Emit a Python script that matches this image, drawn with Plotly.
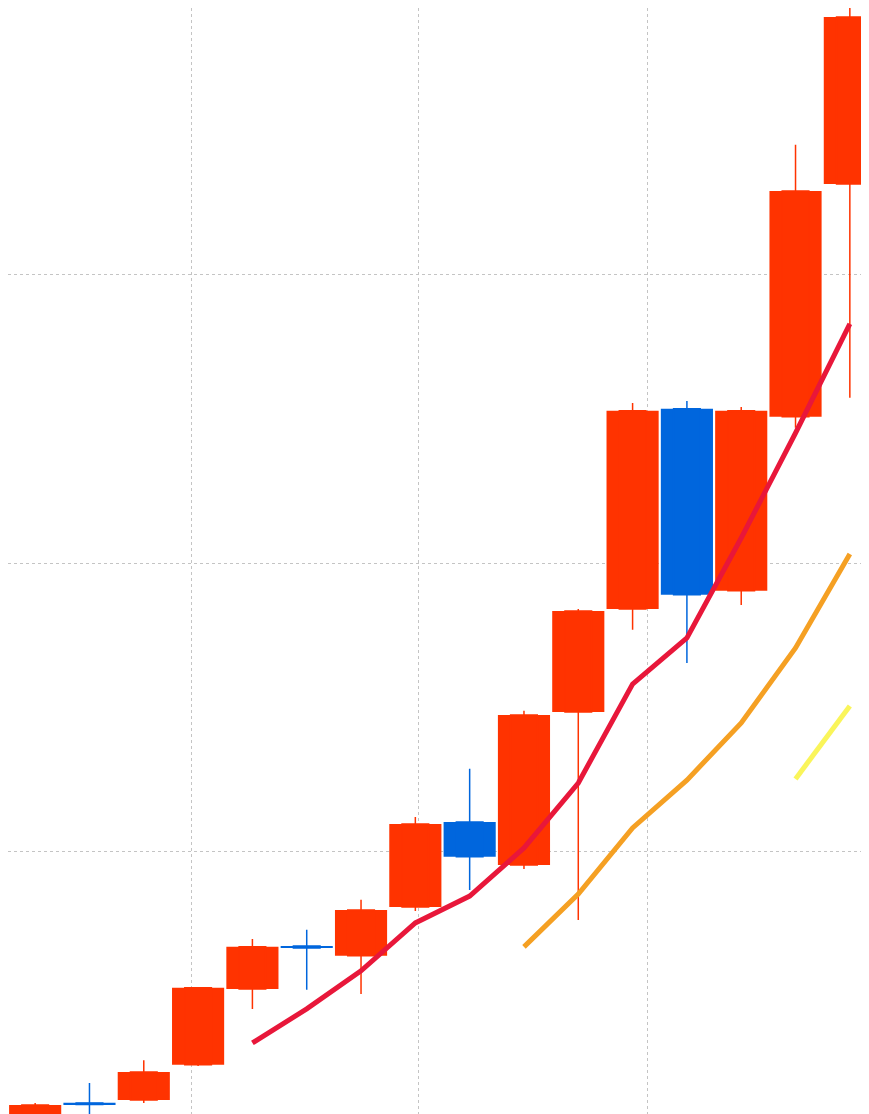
import plotly.graph_objects as go

x = list(range(16))
opens  = [4.3, 13.0, 14.0, 26.2, 52.5, 67.4, 64.0, 80.9, 110.4, 95.5, 148.5, 184.2, 253.6, 190.5, 250.8, 331.5]
closes = [12.3, 12.5, 23.7, 52.9, 67.1, 66.7, 79.9, 109.7, 98.3, 147.5, 183.5, 252.9, 189.1, 252.9, 329.1, 389.4]
highs  = [13.0, 19.9, 27.8, 52.9, 69.8, 73.0, 83.4, 112.1, 128.8, 148.9, 184.2, 255.6, 256.3, 254.2, 345.1, 394.0]
lows   = [2.6, 6.4, 13.0, 25.8, 45.6, 52.2, 50.8, 79.5, 86.8, 94.1, 76.4, 177.0, 165.5, 185.6, 247.0, 257.4]

ma_short_x = list(range(4, 16))
ma_short = [33.8, 45.6, 58.8, 75.4, 84.7, 101.4, 123.9, 158.2, 174.2, 208.8, 245.2, 283.0]
ma_mid_x = list(range(9, 16))
ma_mid = [67.1, 85.4, 108.3, 124.9, 144.7, 170.7, 203.3]
ma_long_x = [14, 15]
ma_long = [125.3, 150.6]

UP, DOWN = "#FF3300", "#0066DD"
colors = [UP if c >= o else DOWN for o, c in zip(opens, closes)]
bases = [min(o, c) for o, c in zip(opens, closes)]
heights = [max(abs(c - o), 0.6) for o, c in zip(opens, closes)]

fig = go.Figure()
fig.add_trace(go.Candlestick(
    x=x, open=opens, high=highs, low=lows, close=closes,
    increasing=dict(line=dict(color=UP, width=1.5), fillcolor=UP),
    decreasing=dict(line=dict(color=DOWN, width=1.5), fillcolor=DOWN),
    whiskerwidth=0, showlegend=False, hoverinfo="skip"))
fig.add_trace(go.Bar(x=x, y=heights, base=bases, width=0.96,
                     marker=dict(color=colors, line=dict(width=0)), showlegend=False))
fig.add_trace(go.Scatter(x=ma_short_x, y=ma_short, mode="lines",
                         line=dict(color="#E8173A", width=5), showlegend=False))
fig.add_trace(go.Scatter(x=ma_mid_x, y=ma_mid, mode="lines",
                         line=dict(color="#F5A023", width=5), showlegend=False))
fig.add_trace(go.Scatter(x=ma_long_x, y=ma_long, mode="lines",
                         line=dict(color="#FAF55A", width=5), showlegend=False))

fig.update_layout(
    width=869, height=1114, margin=dict(l=0, r=0, t=0, b=0, pad=0, autoexpand=False),
    paper_bgcolor="white", plot_bgcolor="white",
    xaxis=dict(range=[-0.5, 15.5], tickvals=[2.87, 7.06, 11.27], showticklabels=False,
               showgrid=True, gridcolor="#C4C4C4", griddash="dot", gridwidth=1,
               zeroline=False, rangeslider=dict(visible=False), showline=False, ticks=""),
    yaxis=dict(range=[6.4, 392.5], dtick=100, tick0=0, showticklabels=False,
               showgrid=True, gridcolor="#C4C4C4", griddash="dot", gridwidth=1,
               zeroline=False, showline=False, ticks=""),
)
fig.write_html("out.html")
